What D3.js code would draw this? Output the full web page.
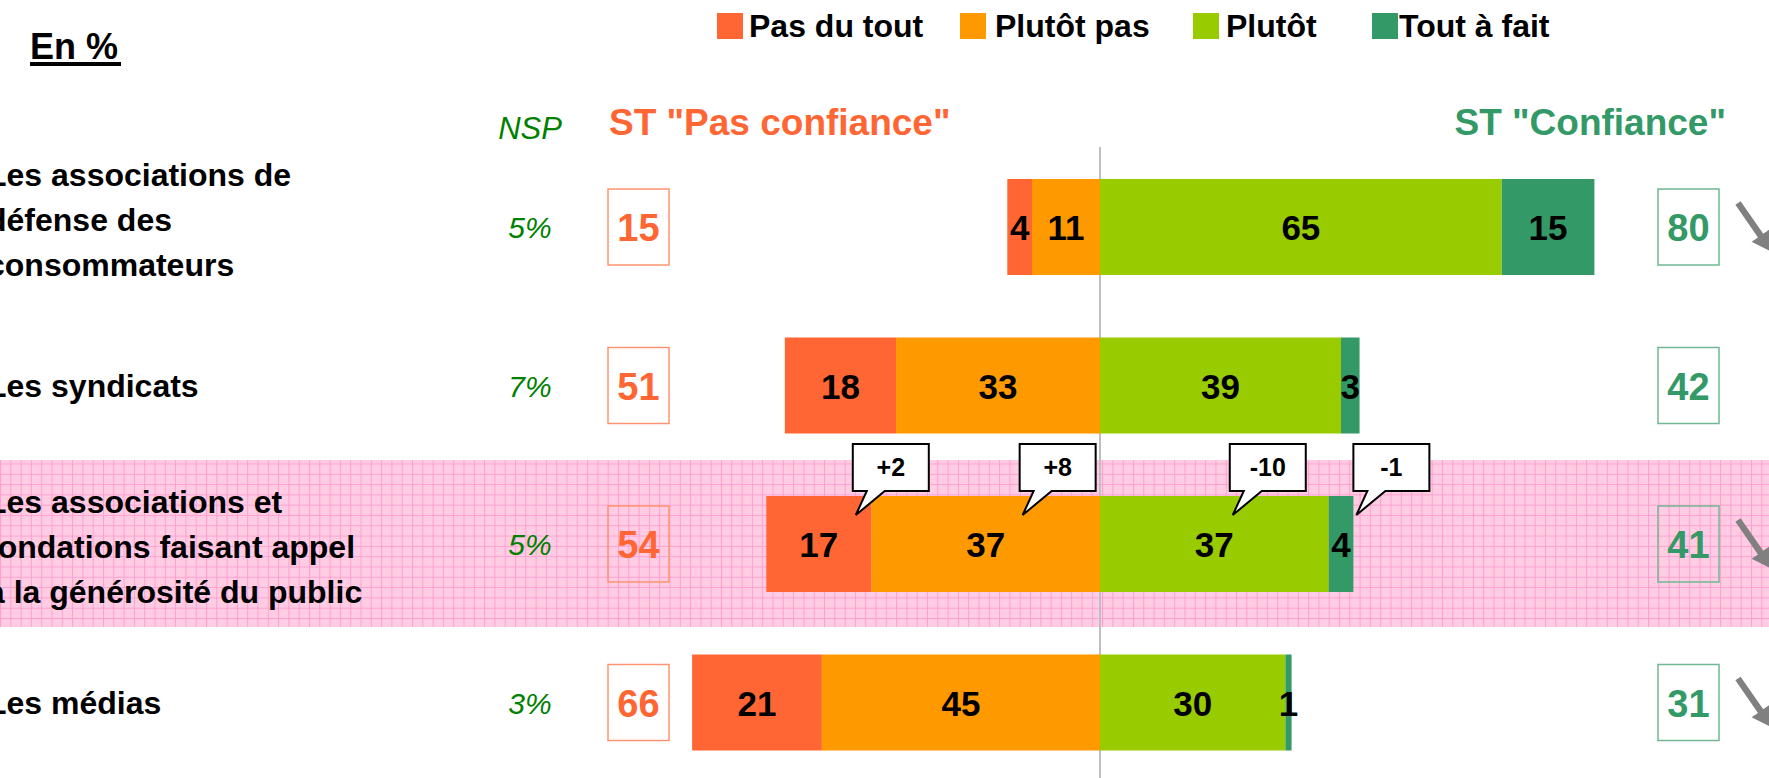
<!DOCTYPE html>
<html><head><meta charset="utf-8">
<script src="https://cdn.jsdelivr.net/npm/d3@7"></script>
<style>
html,body{margin:0;padding:0;background:#fff;overflow:hidden}
svg{display:block;font-family:"Liberation Sans",Arial,sans-serif}
</style></head>
<body>
<svg id="chart" width="1769" height="778"></svg>
<script>
// ---------- data ----------
const categories = [
  ["Les associations de", "défense des", "consommateurs"],
  ["Les syndicats"],
  ["Les associations et", "fondations faisant appel", "à la générosité du public"],
  ["Les médias"]
];
const seriesNames = ["Pas du tout", "Plutôt pas", "Plutôt", "Tout à fait"];
const pasDuTout   = [4, 18, 17, 21];
const plutotPas   = [11, 33, 37, 45];
const plutot      = [65, 39, 37, 30];
const toutAFait   = [15, 3, 4, 1];
const stPasConfiance = [15, 51, 54, 66];
const stConfiance    = [80, 42, 41, 31];
const nspLabels   = ["5%", "7%", "5%", "3%"];
const trendDown   = [true, false, true, true];
const highlightRow = 2;
const evolLabels  = ["+2", "+8", "-10", "-1"];
const evolAnchor  = [-40, -13, 21, 41];   // callout box left edge, in % units

const colors = ["#ff6633", "#ff9900", "#99cc00", "#339966"];
const orange = "#ff6633", green = "#339966", nspGreen = "#008000";

// ---------- layout ----------
const W = 1769, H = 778;
const svg = d3.select("#chart");
const x = d3.scaleLinear().domain([-80, 80]).range([1100 - 494.4, 1100 + 494.4]);
const y = d3.scalePoint().domain(d3.range(categories.length)).range([227, 702.5]);
const barH = 96;
const labelShift = [-7, 0, 3, 0];

// pattern for highlight band
const defs = svg.append("defs");
const pat = defs.append("pattern").attr("id", "grid")
  .attr("patternUnits", "userSpaceOnUse").attr("width", 10.3).attr("height", 10.3);
pat.append("rect").attr("width", 10.3).attr("height", 10.3).attr("fill", "#ffcce4");
pat.append("path").attr("d", "M0,0.5H10.3M0.5,0V10.3").attr("stroke", "#ff9fcf").attr("stroke-width", 1);

// highlight band
svg.append("rect")
  .attr("x", 0).attr("width", W)
  .attr("y", y(highlightRow) - 84).attr("height", 167)
  .attr("fill", "url(#grid)");

// title
svg.append("text").attr("x", 30).attr("y", 59)
  .attr("font-size", 36).attr("font-weight", "bold").text("En %");
svg.append("rect").attr("x", 30).attr("y", 62).attr("width", 91).attr("height", 4).attr("fill", "#000");

// legend
const legendX = [717, 960, 1193, 1372];
const legendGap = [6, 9, 7, 1];
seriesNames.forEach((s, i) => {
  svg.append("rect").attr("x", legendX[i]).attr("y", 13).attr("width", 26).attr("height", 26).attr("fill", colors[i]);
  svg.append("text").attr("x", legendX[i] + 26 + legendGap[i]).attr("y", 37)
    .attr("font-size", 32).attr("font-weight", "bold").text(s);
});

// headers
svg.append("text").attr("x", 530).attr("y", 139).attr("text-anchor", "middle")
  .attr("font-size", 31).attr("font-style", "italic").attr("fill", nspGreen).text("NSP");
svg.append("text").attr("x", 609).attr("y", 135)
  .attr("font-size", 37).attr("font-weight", "bold").attr("fill", orange).text('ST "Pas confiance"');
svg.append("text").attr("x", 1726).attr("y", 135).attr("text-anchor", "end")
  .attr("font-size", 37).attr("font-weight", "bold").attr("fill", green).text('ST "Confiance"');

// center line
svg.append("line").attr("x1", x(0)).attr("x2", x(0)).attr("y1", 147).attr("y2", H)
  .attr("stroke", "#bfbfbf").attr("stroke-width", 2);

// category labels
categories.forEach((lines, i) => {
  const n = lines.length;
  lines.forEach((ln, j) => {
    svg.append("text").attr("x", -13)
      .attr("y", y(i) + 11 + labelShift[i] + (j - (n - 1) / 2) * 45)
      .attr("font-size", 32).attr("font-weight", "bold").text(ln);
  });
  svg.append("text").attr("x", 530).attr("y", y(i) + 11).attr("text-anchor", "middle")
    .attr("font-size", 30).attr("font-style", "italic").attr("fill", nspGreen).text(nspLabels[i]);
});

// stacked diverging bars
const rows = categories.map((c, i) => {
  const vals = [pasDuTout[i], plutotPas[i], plutot[i], toutAFait[i]];
  const segs = [
    {s: 0, x0: -(vals[0] + vals[1]), x1: -vals[1], v: vals[0]},
    {s: 1, x0: -vals[1], x1: 0, v: vals[1]},
    {s: 2, x0: 0, x1: vals[2], v: vals[2]},
    {s: 3, x0: vals[2], x1: vals[2] + vals[3], v: vals[3]}
  ];
  return {i, segs};
});
const g = svg.selectAll("g.row").data(rows).join("g").attr("class", "row");
g.selectAll("rect").data(d => d.segs.map(s => ({...s, i: d.i}))).join("rect")
  .attr("x", d => x(d.x0)).attr("width", d => x(d.x1) - x(d.x0))
  .attr("y", d => y(d.i) - barH / 2).attr("height", barH)
  .attr("fill", d => colors[d.s]);
g.selectAll("text").data(d => d.segs.map(s => ({...s, i: d.i}))).join("text")
  .attr("x", d => (x(d.x0) + x(d.x1)) / 2).attr("y", d => y(d.i) + 13)
  .attr("text-anchor", "middle").attr("font-size", 35).attr("font-weight", "bold")
  .text(d => d.v);

// summary boxes
function box(cx, cy, val, col, stroke) {
  svg.append("rect").attr("x", cx - 30.5).attr("y", cy - 38).attr("width", 61).attr("height", 76)
    .attr("fill", "none").attr("stroke", stroke).attr("stroke-width", 1.5);
  svg.append("text").attr("x", cx).attr("y", cy + 14).attr("text-anchor", "middle")
    .attr("font-size", 38).attr("font-weight", "bold").attr("fill", col).text(val);
}
categories.forEach((c, i) => {
  box(638.5, y(i), stPasConfiance[i], orange, "#ff9470");
  box(1688.5, y(i), stConfiance[i], green, "#6fb893");
  if (trendDown[i]) {
    const c0 = y(i);
    const x0 = 1738, y0 = c0 - 24, x1 = 1772, y1 = c0 + 25;
    const dx = x1 - x0, dy = y1 - y0, L = Math.hypot(dx, dy);
    const ux = dx / L, uy = dy / L, px = -uy, py = ux;
    const sw = 3.2, hw = 11, hl = 20;
    const bx = x1 - ux * hl, by = y1 - uy * hl;
    const pts = [
      [x0 + px * sw, y0 + py * sw], [bx + px * sw, by + py * sw], [bx + px * hw, by + py * hw],
      [x1, y1], [bx - px * hw, by - py * hw], [bx - px * sw, by - py * sw], [x0 - px * sw, y0 - py * sw]
    ];
    svg.append("polygon").attr("points", pts.map(p => p.join(",")).join(" ")).attr("fill", "#808080");
  }
});

// callouts for evolution
evolLabels.forEach((lab, k) => {
  const bx = x(evolAnchor[k]);
  const top = y(highlightRow) - 100, bw = 76, bh = 47;
  const bot = top + bh;
  const path = `M${bx},${top}H${bx + bw}V${bot}H${bx + 32}L${bx + 3},${bot + 24}L${bx + 14},${bot}H${bx}Z`;
  svg.append("path").attr("d", path).attr("fill", "#fff").attr("stroke", "#000").attr("stroke-width", 2);
  svg.append("text").attr("x", bx + bw / 2).attr("y", top + 32).attr("text-anchor", "middle")
    .attr("font-size", 25).attr("font-weight", "bold").text(lab);
});
</script>
</body></html>
